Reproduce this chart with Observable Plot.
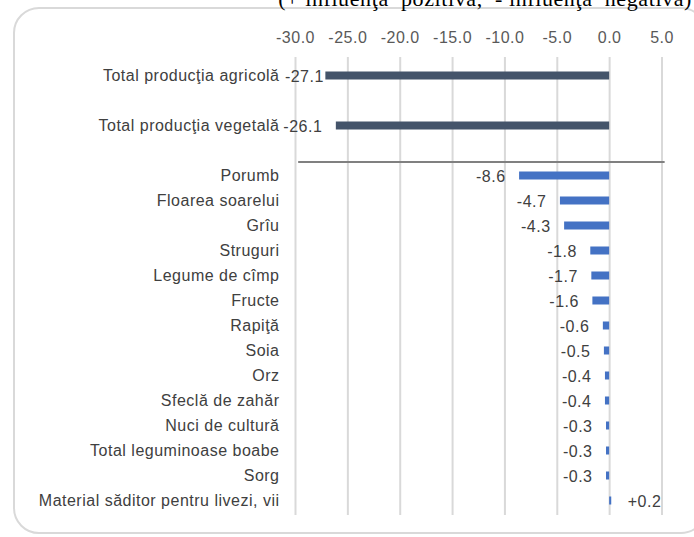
<!DOCTYPE html>
<html>
<head>
<meta charset="utf-8">
<script src="https://cdn.jsdelivr.net/npm/d3@7"></script>
<script src="https://cdn.jsdelivr.net/npm/@observablehq/plot@0.6"></script>
<style>
  html, body { margin: 0; padding: 0; background: #fff; }
  #wrap { position: relative; width: 694px; height: 537px; overflow: hidden; }
  #frame { position: absolute; left: 13px; top: 7px; width: 694px; height: 527px;
           border: 2px solid #d9d9d9; border-radius: 26px; box-sizing: border-box; }
  #title { position: absolute; right: 2px; top: -14px; font-family: "Liberation Serif", serif;
           font-size: 22px; color: #000; white-space: nowrap; letter-spacing: 0.6px; }
  #chart { position: absolute; left: 0; top: 0; }
  #chart text { letter-spacing: 0.5px; }
</style>
</head>
<body>
<div id="wrap">
  <div id="frame"></div>
  <div id="title">(+ influenţa&nbsp; pozitivă,&nbsp; - influenţa&nbsp; negativă)</div>
  <div id="chart"></div>
</div>
<script>
const totalNames = ["Total producţia agricolă", "Total producţia vegetală"];
const totalValues = [-27.1, -26.1];
const cropNames = ["Porumb", "Floarea soarelui", "Grîu", "Struguri", "Legume de cîmp", "Fructe",
  "Rapiţă", "Soia", "Orz", "Sfeclă de zahăr", "Nuci de cultură", "Total leguminoase boabe",
  "Sorg", "Material săditor pentru livezi, vii"];
const cropValues = [-8.6, -4.7, -4.3, -1.8, -1.7, -1.6, -0.6, -0.5, -0.4, -0.4, -0.3, -0.3, -0.3, 0.2];
const xTicks = [-30, -25, -20, -15, -10, -5, 0, 5];

const rows = [totalNames[0], "_gap1", totalNames[1], "_gap2", ...cropNames];
const data = [
  ...totalNames.map((n, i) => ({name: n, value: totalValues[i], group: "total"})),
  ...cropNames.map((n, i) => ({name: n, value: cropValues[i], group: "crop"}))
];
const fmtVal = v => (v > 0 ? "+" : "") + v.toFixed(1);
const font = "Liberation Sans, Arial, sans-serif";

const chart = Plot.plot({
  width: 694,
  height: 537,
  marginLeft: 295,
  marginRight: 32.5,
  marginTop: 57,
  marginBottom: 22,
  style: {fontFamily: font, background: "transparent"},
  x: {domain: [-30, 5], label: null},
  y: {domain: rows, range: [59, 517], padding: 0, axis: null},
  marks: [
    Plot.gridX(xTicks, {stroke: "#d9d9d9", strokeOpacity: 1, strokeWidth: 2}),
    Plot.axisX(xTicks, {anchor: "top", tickSize: 0, tickPadding: 15, fontSize: 16,
      fill: "#595959", label: null, tickFormat: d => d.toFixed(1)}),
    Plot.ruleY(["_gap2"], {x1: -29.7, x2: 5.3, dy: 11, stroke: "#808080", strokeWidth: 2}),
    Plot.barX(data, {x: "value", y: "name", insetTop: 8.5, insetBottom: 8.5,
      fill: d => d.group === "total" ? "#44546a" : "#4472c4"}),
    Plot.text(data, {x: -30, y: "name", text: "name", textAnchor: "end", dx: -16,
      fontSize: 16, fill: "#404040"}),
    Plot.text(data.filter(d => d.name === totalNames[0]), {x: "value", y: "name", text: d => fmtVal(d.value),
      textAnchor: "end", dx: -2, dy: 1, fontSize: 16, fill: "#404040"}),
    Plot.text(data.filter(d => d.name !== totalNames[0] && d.value < 0), {x: "value", y: "name",
      text: d => fmtVal(d.value), textAnchor: "end", dx: -14, dy: 1, fontSize: 16, fill: "#404040"}),
    Plot.text(data.filter(d => d.value > 0), {x: "value", y: "name", text: d => fmtVal(d.value),
      textAnchor: "start", dx: 16, dy: 1, fontSize: 16, fill: "#404040"})
  ]
});
document.getElementById("chart").appendChild(chart);
</script>
</body>
</html>
